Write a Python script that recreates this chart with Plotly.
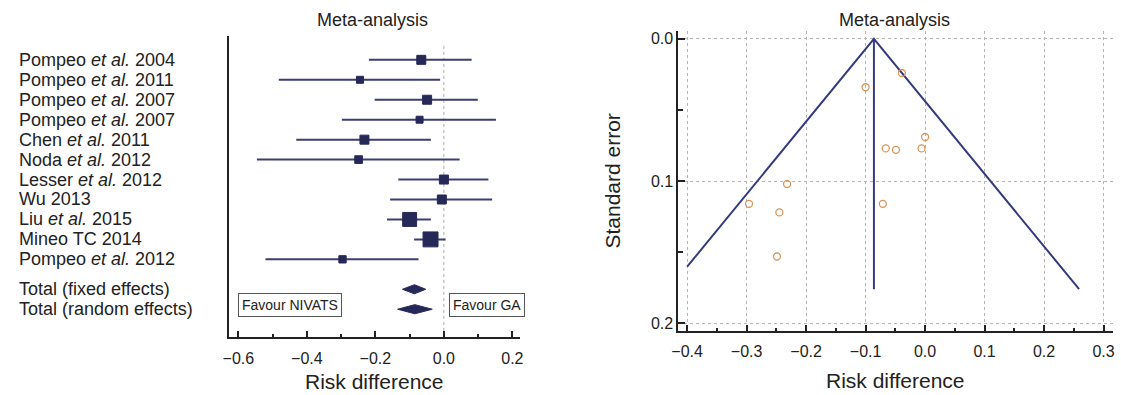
import plotly.graph_objects as go

# ---------------- data ----------------
studies = ["Pompeo <i>et al.</i> 2004", "Pompeo <i>et al.</i> 2011", "Pompeo <i>et al.</i> 2007",
           "Pompeo <i>et al.</i> 2007", "Chen <i>et al.</i> 2011", "Noda <i>et al.</i> 2012",
           "Lesser <i>et al.</i> 2012", "Wu 2013", "Liu <i>et al.</i> 2015", "Mineo TC 2014",
           "Pompeo <i>et al.</i> 2012"]
rd = [-0.066, -0.245, -0.049, -0.071, -0.232, -0.249, 0.000, -0.006, -0.100, -0.039, -0.296]
ci_low = [-0.219, -0.482, -0.202, -0.298, -0.431, -0.546, -0.133, -0.157, -0.166, -0.087, -0.521]
ci_high = [0.081, -0.011, 0.099, 0.152, -0.038, 0.046, 0.130, 0.141, -0.038, 0.005, -0.074]
weight_pct = [8.0, 5.1, 8.0, 5.1, 8.0, 6.0, 8.0, 8.0, 17.9, 20.4, 5.5]
se = [0.077, 0.122, 0.078, 0.116, 0.102, 0.153, 0.069, 0.077, 0.034, 0.024, 0.116]

total_labels = ["Total (fixed effects)", "Total (random effects)"]
total_est = [-0.086, -0.085]
total_low = [-0.121, -0.135]
total_high = [-0.053, -0.034]

funnel_center = -0.086
funnel_se_max = 0.176
funnel_x_limit = -0.4

forest_ticks = [-0.6, -0.4, -0.2, 0.0, 0.2]
funnel_xticks = [-0.4, -0.3, -0.2, -0.1, 0.0, 0.1, 0.2, 0.3]
funnel_yticks = [0.0, 0.1, 0.2]

# ---------------- styles ----------------
W, H = 1121, 395
FONT = "Liberation Sans, Arial, Helvetica, sans-serif"
TXT = "#222222"
NAVY = "#262858"
NAVY_LINE = "#3a3d76"
FUNNEL = "#363a7e"
ORANGE = "#d8955a"
AXIS = "#222222"

def px_x(p):
    return p / W

def px_y(p):
    return (H - p) / H

rows = list(range(len(studies)))
total_rows = [len(studies) + 0.5, len(studies) + 1.5]

fig = go.Figure()

# forest: CI lines + squares
fig.add_trace(go.Scatter(
    x=rd, y=rows, mode="markers", xaxis="x", yaxis="y",
    marker=dict(symbol="square", color=NAVY, opacity=1,
                size=[10 * (w / 8.0) ** 0.5 - 1 for w in weight_pct],
                line=dict(color=NAVY, width=1)),
    error_x=dict(type="data", symmetric=False,
                 array=[h - r for h, r in zip(ci_high, rd)],
                 arrayminus=[r - l for r, l in zip(rd, ci_low)],
                 width=0, thickness=2, color=NAVY_LINE),
    hoverinfo="skip"))

# forest: diamonds for totals
half_h = 0.23
for est, lo, hi, yr in zip(total_est, total_low, total_high, total_rows):
    fig.add_trace(go.Scatter(
        x=[lo, est, hi, est, lo], y=[yr, yr - half_h, yr, yr + half_h, yr],
        mode="lines", fill="toself", fillcolor=NAVY, xaxis="x", yaxis="y",
        line=dict(color=NAVY, width=1), hoverinfo="skip"))

# funnel: pseudo 95% CI lines
se_left_end = (funnel_center - funnel_x_limit) / 1.96
fig.add_trace(go.Scatter(
    x=[funnel_center - 1.96 * se_left_end, funnel_center, funnel_center + 1.96 * funnel_se_max],
    y=[se_left_end, 0.0, funnel_se_max],
    mode="lines", xaxis="x2", yaxis="y2",
    line=dict(color=FUNNEL, width=2), hoverinfo="skip"))
fig.add_trace(go.Scatter(
    x=[funnel_center, funnel_center], y=[0.0, funnel_se_max],
    mode="lines", xaxis="x2", yaxis="y2",
    line=dict(color=FUNNEL, width=2), hoverinfo="skip"))

# funnel: study points
fig.add_trace(go.Scatter(
    x=rd, y=se, mode="markers", xaxis="x2", yaxis="y2",
    marker=dict(symbol="circle-open", size=7, color=ORANGE, line=dict(width=1.3, color=ORANGE)),
    hoverinfo="skip"))

# zero line in forest plot
fig.add_shape(type="line", xref="x", yref="y", x0=0, x1=0, y0=-0.7, y1=13.9,
              line=dict(color="#aaaaaa", width=1, dash="dot"), layer="below")

ann = []
for lab, yr in zip(studies + total_labels, rows + total_rows):
    ann.append(dict(text=lab, xref="paper", yref="y", x=px_x(10), y=yr,
                    xanchor="left", yanchor="middle", showarrow=False,
                    font=dict(size=18, color=TXT, family=FONT)))

# titles
ann.append(dict(text="Meta-analysis", xref="paper", yref="paper", x=px_x(369), y=px_y(20),
                xanchor="center", yanchor="middle", showarrow=False,
                font=dict(size=18, color=TXT, family=FONT)))
ann.append(dict(text="Meta-analysis", xref="paper", yref="paper", x=px_x(896), y=px_y(20),
                xanchor="center", yanchor="middle", showarrow=False,
                font=dict(size=18, color=TXT, family=FONT)))
ann.append(dict(text="Risk difference", xref="paper", yref="paper", x=px_x(371), y=px_y(382),
                xanchor="center", yanchor="middle", showarrow=False,
                font=dict(size=21, color=TXT, family=FONT)))
ann.append(dict(text="Risk difference", xref="paper", yref="paper", x=px_x(897), y=px_y(381),
                xanchor="center", yanchor="middle", showarrow=False,
                font=dict(size=21, color=TXT, family=FONT)))
ann.append(dict(text="Standard error", xref="paper", yref="paper", x=px_x(612), y=px_y(181),
                xanchor="center", yanchor="middle", showarrow=False, textangle=-90,
                font=dict(size=21, color=TXT, family=FONT)))

# favour boxes
ann.append(dict(text="Favour NIVATS", xref="x", yref="y", x=-0.6, y=12.3,
                xanchor="left", yanchor="middle", showarrow=False,
                bordercolor="#555555", borderwidth=1, borderpad=3,
                font=dict(size=14, color=TXT, family=FONT)))
ann.append(dict(text="Favour GA", xref="x", yref="y", x=0.015, y=12.3,
                xanchor="left", yanchor="middle", showarrow=False,
                bordercolor="#555555", borderwidth=1, borderpad=3,
                font=dict(size=14, color=TXT, family=FONT)))

tickfont = dict(size=16, color=TXT, family=FONT)

fig.update_layout(
    width=W, height=H, margin=dict(l=0, r=0, t=0, b=0),
    paper_bgcolor="white", plot_bgcolor="white",
    showlegend=False, hovermode=False,
    annotations=ann,
    xaxis=dict(domain=[px_x(224), px_x(518)], range=[-0.628, 0.222], anchor="y",
               tickvals=forest_ticks, tickformat=".1f", tickfont=tickfont,
               showline=True, linecolor=AXIS, linewidth=2,
               ticks="inside", ticklen=6, tickwidth=2, tickcolor=AXIS,
               ticklabelstandoff=6,
               minor=dict(dtick=0.1, tick0=0, ticks="inside", ticklen=3, tickwidth=1.5, tickcolor=AXIS),
               showgrid=False, zeroline=False, fixedrange=True),
    yaxis=dict(domain=[px_y(338), px_y(36)], range=[13.9, -1.2], anchor="x",
               showline=True, linecolor=AXIS, linewidth=2,
               showticklabels=False, ticks="", showgrid=False, zeroline=False, fixedrange=True),
    xaxis2=dict(domain=[px_x(678), px_x(1117)], range=[-0.4148, 0.316], anchor="y2",
                tickvals=funnel_xticks, tickformat=".1f", tickfont=tickfont,
                showline=True, linecolor=AXIS, linewidth=2,
                ticks="inside", ticklen=6, tickwidth=2, tickcolor=AXIS,
                ticklabelstandoff=5,
                minor=dict(dtick=0.05, tick0=0, ticks="inside", ticklen=3, tickwidth=1.5,
                           tickcolor=AXIS, showgrid=False),
                showgrid=True, gridcolor="#b5b5b5", gridwidth=1, griddash="dot",
                zeroline=False, fixedrange=True),
    yaxis2=dict(domain=[px_y(331.7), px_y(31)], range=[0.2053, -0.0056], anchor="x2",
                tickvals=funnel_yticks, tickformat=".1f", tickfont=tickfont,
                showline=True, linecolor=AXIS, linewidth=2,
                ticks="inside", ticklen=7, tickwidth=2, tickcolor=AXIS,
                minor=dict(dtick=0.05, tick0=0, ticks="inside", ticklen=5, tickwidth=1.5,
                           tickcolor=AXIS, showgrid=False),
                showgrid=True, gridcolor="#b5b5b5", gridwidth=1, griddash="dot",
                zeroline=False, fixedrange=True),
)

fig.write_html("out.html", config={"displayModeBar": False},
               post_script="document.body.style.margin='0px';")
